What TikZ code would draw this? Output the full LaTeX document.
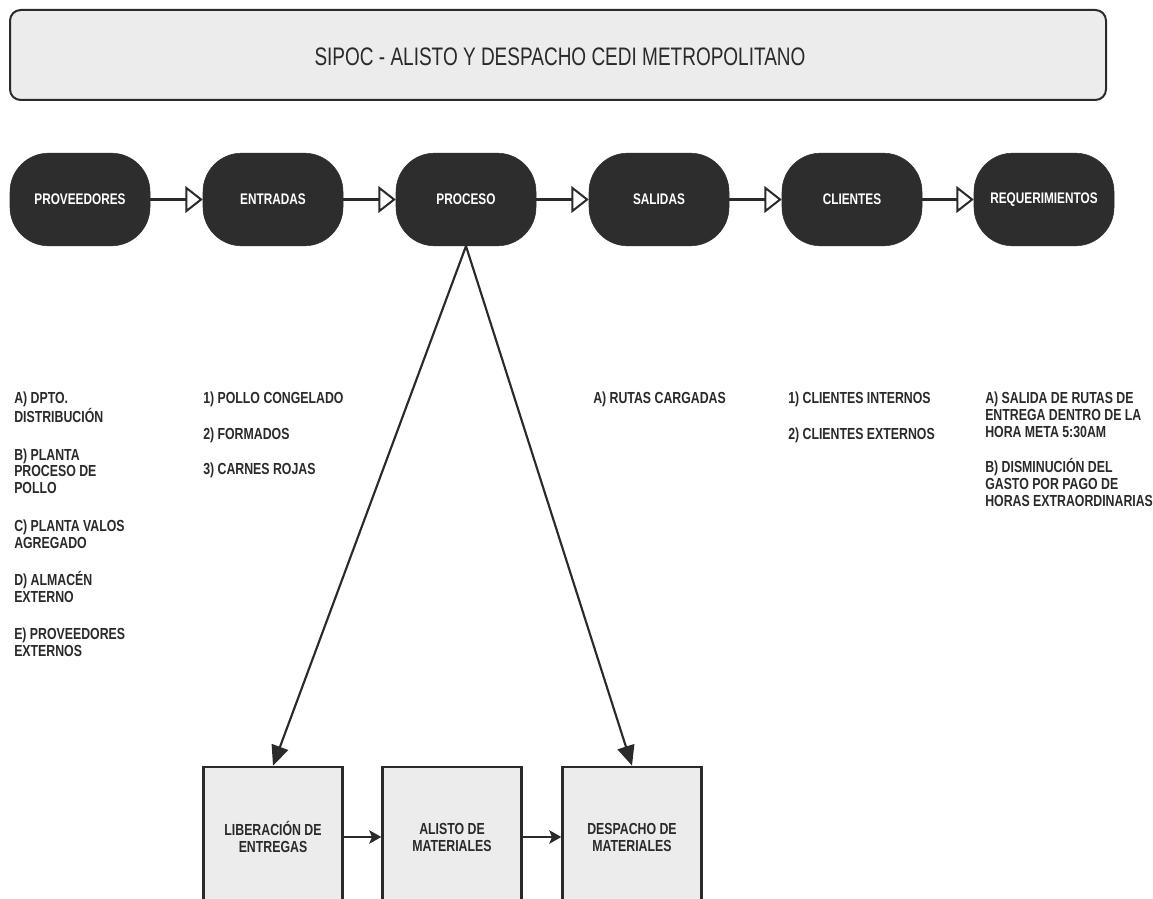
\documentclass[tikz,border=0pt]{standalone}
\usepackage{fontspec}
\setmainfont[FakeStretch=0.77]{Liberation Sans}
\newfontfamily\headfont[FakeStretch=0.75]{Liberation Sans}
\usetikzlibrary{arrows.meta}
\definecolor{ink}{RGB}{42,42,42}
\definecolor{pillfill}{RGB}{45,45,45}
\definecolor{panel}{RGB}{236,236,236}
\tikzset{
  titlebox/.style={draw=ink, line width=1.5pt, fill=panel, rounded corners=8pt,
    minimum width=822pt, minimum height=67.5pt, inner sep=0pt},
  titletext/.style={inner sep=0pt, text=ink, font=\headfont\fontsize{19}{22}\selectfont},
  pill/.style={fill=pillfill, draw=pillfill, rounded corners=29pt,
    minimum width=105pt, minimum height=69.5pt, inner sep=0pt,
    font=\bfseries\fontsize{11.5}{13}\selectfont, text=white},
  stepbox/.style={draw=ink, line width=2pt, fill=panel,
    minimum width=104pt, minimum height=105pt, inner sep=0pt, align=center,
    font=\bfseries\fontsize{12}{12.75}\selectfont, text=ink},
  listtext/.style={anchor=north west, align=left, inner sep=0pt, text=ink,
    font=\bfseries\fontsize{12}{12.6}\selectfont},
  pillarrow/.style={draw=ink, line width=1.8pt,
    -{Triangle[length=13pt, width=20pt, fill=white, line width=1.5pt]}},
  diagarrow/.style={draw=ink, line width=1.6pt,
    -{Triangle[length=15pt, width=13pt]}},
  boxarrow/.style={draw=ink, line width=2.2pt,
    -{Stealth[length=9pt, width=10pt, inset=2pt]}},
}
\begin{document}
\begin{tikzpicture}[x=0.75pt, y=-0.75pt]
\clip (0,0) rectangle (1153,899);
\fill[white] (0,0) rectangle (1153,899);

% heading
\node[titlebox] (title) at (558,55) {};
\node[titletext] (titlelabel) at (560,57) {SIPOC - ALISTO Y DESPACHO CEDI METROPOLITANO};

% SIPOC stages
\node[pill] (prov) at (80,199.5)   {PROVEEDORES};
\node[pill] (entr) at (273,199.5)  {ENTRADAS};
\node[pill] (proc) at (466,199.5)  {PROCESO};
\node[pill] (sali) at (659,199.5)  {SALIDAS};
\node[pill] (clie) at (852,199.5)  {CLIENTES};
\node[pill] (requ) at (1044,199.5) {REQUERIMIENTOS};

\draw[pillarrow] (prov.east) -- (entr.west);
\draw[pillarrow] (entr.east) -- (proc.west);
\draw[pillarrow] (proc.east) -- (sali.west);
\draw[pillarrow] (sali.east) -- (clie.west);
\draw[pillarrow] (clie.east) -- (requ.west);

% column contents
\node[listtext] (tprov) at (14,392) {A) DPTO.\\DISTRIBUCIÓN\\[15.5pt]
  B) PLANTA\\PROCESO DE\\POLLO\\[15.5pt]
  C) PLANTA VALOS\\AGREGADO\\[15.5pt]
  D) ALMACÉN\\EXTERNO\\[15.5pt]
  E) PROVEEDORES\\EXTERNOS};
\node[listtext] (tentr) at (203,392) {1) POLLO CONGELADO\\[14pt]
  2) FORMADOS\\[14pt]
  3) CARNES ROJAS};
\node[listtext] (tsali) at (593,392) {A) RUTAS CARGADAS};
\node[listtext] (tclie) at (788,392) {1) CLIENTES INTERNOS\\[14pt]
  2) CLIENTES EXTERNOS};
\node[listtext] (trequ) at (985,392) {A) SALIDA DE RUTAS DE\\ENTREGA DENTRO DE LA\\HORA META 5:30AM\\[14pt]
  B) DISMINUCIÓN DEL\\GASTO POR PAGO DE\\HORAS EXTRAORDINARIAS};

% process steps
\node[stepbox] (lib)  at (273,837) {LIBERACIÓN DE\\ENTREGAS};
\node[stepbox] (alis) at (452,837) {ALISTO DE\\MATERIALES};
\node[stepbox] (desp) at (632,837) {DESPACHO DE\\MATERIALES};

\draw[diagarrow] (proc.south) -- (lib.north);
\draw[diagarrow] (proc.south) -- (desp.north);
\draw[boxarrow] (lib.east) -- (alis.west);
\draw[boxarrow] (alis.east) -- (desp.west);
\end{tikzpicture}
\end{document}
